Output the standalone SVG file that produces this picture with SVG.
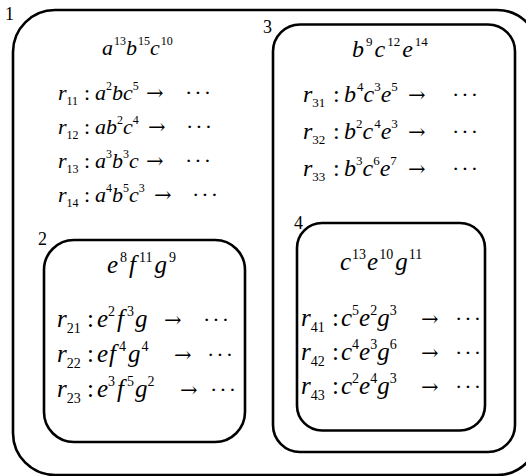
<svg xmlns="http://www.w3.org/2000/svg" width="526" height="476" viewBox="0 0 526 476">
<style>
.box{fill:none;stroke:#000;stroke-width:2.6}
.lbl{font-family:"Liberation Serif","DejaVu Serif",serif;font-size:18px;fill:#000}
.m{font-family:"Liberation Serif","DejaVu Serif",serif;font-style:italic;fill:#000}
.b1{font-size:22px}
.b2{font-size:25px}
.b3{font-size:24px}
.n{font-style:normal}
.s1{font-size:12px;font-style:normal}
.s2{font-size:14px;font-style:normal}
.s3{font-size:13px;font-style:normal}
.ar{font-style:normal;font-size:21px;font-family:"DejaVu Serif",serif}
.dt{font-style:normal;font-size:22px;letter-spacing:2px}
</style>
<rect width="526" height="476" fill="#fff"/>
<g id="box1">
<rect class="box" x="13" y="10" width="526" height="465" rx="42"/>
<text class="lbl" x="5" y="20">1</text>
<text class="m b1" x="102" y="55">a<tspan class="s1" dy="-10" dx="1">13</tspan><tspan dy="10">b</tspan><tspan class="s1" dy="-10" dx="1">15</tspan><tspan dy="10">c</tspan><tspan class="s1" dy="-10" dx="1">10</tspan></text>
<text class="m b1" y="100"><tspan x="58">r</tspan><tspan class="s1" dy="5">11</tspan><tspan class="n" x="84" dy="-5">:</tspan><tspan x="95">a</tspan><tspan class="s1" dy="-10">2</tspan><tspan dy="10">bc</tspan><tspan class="s1" dy="-10">5</tspan><tspan class="ar" x="146" dy="10">→</tspan><tspan class="dt" x="185">···</tspan></text>
<text class="m b1" y="134"><tspan x="58">r</tspan><tspan class="s1" dy="5">12</tspan><tspan class="n" x="84" dy="-5">:</tspan><tspan x="95">ab</tspan><tspan class="s1" dy="-10">2</tspan><tspan dy="10">c</tspan><tspan class="s1" dy="-10">4</tspan><tspan class="ar" x="148" dy="10">→</tspan><tspan class="dt" x="186">···</tspan></text>
<text class="m b1" y="168"><tspan x="58">r</tspan><tspan class="s1" dy="5">13</tspan><tspan class="n" x="84" dy="-5">:</tspan><tspan x="95">a</tspan><tspan class="s1" dy="-10">3</tspan><tspan dy="10">b</tspan><tspan class="s1" dy="-10">3</tspan><tspan dy="10">c</tspan><tspan class="ar" x="146">→</tspan><tspan class="dt" x="185">···</tspan></text>
<text class="m b1" y="202"><tspan x="58">r</tspan><tspan class="s1" dy="5">14</tspan><tspan class="n" x="84" dy="-5">:</tspan><tspan x="95">a</tspan><tspan class="s1" dy="-10">4</tspan><tspan dy="10">b</tspan><tspan class="s1" dy="-10">5</tspan><tspan dy="10">c</tspan><tspan class="s1" dy="-10">3</tspan><tspan class="ar" x="154" dy="10">→</tspan><tspan class="dt" x="192">···</tspan></text>
</g>
<g id="box2">
<rect class="box" x="44" y="240" width="201" height="202" rx="30"/>
<text class="lbl" x="38" y="245">2</text>
<text class="m b2" x="107" y="273">e<tspan class="s2" dy="-11" dx="2">8</tspan><tspan dy="11" dx="2">f</tspan><tspan class="s2" dy="-11" dx="3">11</tspan><tspan dy="11" dx="2">g</tspan><tspan class="s2" dy="-11" dx="2">9</tspan></text>
<text class="m b2" y="327"><tspan x="57">r</tspan><tspan class="s2" dy="6">21</tspan><tspan class="n" x="87" dy="-6">:</tspan><tspan x="97">e</tspan><tspan class="s2" dy="-11">2</tspan><tspan dy="11" dx="2">f</tspan><tspan class="s2" dy="-11" dx="3">3</tspan><tspan dy="11" dx="1">g</tspan><tspan class="ar" x="164">→</tspan><tspan class="dt" x="203">···</tspan></text>
<text class="m b2" y="362"><tspan x="57">r</tspan><tspan class="s2" dy="6">22</tspan><tspan class="n" x="87" dy="-6">:</tspan><tspan x="97">e</tspan><tspan dx="1">f</tspan><tspan class="s2" dy="-11" dx="3">4</tspan><tspan dy="11" dx="2">g</tspan><tspan class="s2" dy="-11" dx="1">4</tspan><tspan class="ar" x="174" dy="11">→</tspan><tspan class="dt" x="207">···</tspan></text>
<text class="m b2" y="397"><tspan x="57">r</tspan><tspan class="s2" dy="6">23</tspan><tspan class="n" x="87" dy="-6">:</tspan><tspan x="97">e</tspan><tspan class="s2" dy="-11">3</tspan><tspan dy="11" dx="2">f</tspan><tspan class="s2" dy="-11" dx="3">5</tspan><tspan dy="11" dx="1">g</tspan><tspan class="s2" dy="-11">2</tspan><tspan class="ar" x="180" dy="11">→</tspan><tspan class="dt" x="210">···</tspan></text>
</g>
<g id="box3">
<rect class="box" x="273" y="24.5" width="242" height="427.5" rx="27"/>
<text class="lbl" x="263" y="33">3</text>
<text class="m b3" x="352" y="57">b<tspan class="s3" dy="-11" dx="2">9</tspan><tspan dy="11" dx="2">c</tspan><tspan class="s3" dy="-11" dx="2">12</tspan><tspan dy="11" dx="2">e</tspan><tspan class="s3" dy="-11" dx="2">14</tspan></text>
<text class="m b3" y="102"><tspan x="303">r</tspan><tspan class="s3" dy="5">31</tspan><tspan class="n" x="333" dy="-5">:</tspan><tspan x="344">b</tspan><tspan class="s3" dy="-11" dx="1">4</tspan><tspan dy="11">c</tspan><tspan class="s3" dy="-11">3</tspan><tspan dy="11">e</tspan><tspan class="s3" dy="-11">5</tspan><tspan class="ar" x="408" dy="11">→</tspan><tspan class="dt" x="452">···</tspan></text>
<text class="m b3" y="139"><tspan x="303">r</tspan><tspan class="s3" dy="5">32</tspan><tspan class="n" x="333" dy="-5">:</tspan><tspan x="344">b</tspan><tspan class="s3" dy="-11">2</tspan><tspan dy="11">c</tspan><tspan class="s3" dy="-11" dx="1">4</tspan><tspan dy="11">e</tspan><tspan class="s3" dy="-11">3</tspan><tspan class="ar" x="408" dy="11">→</tspan><tspan class="dt" x="452">···</tspan></text>
<text class="m b3" y="176"><tspan x="303">r</tspan><tspan class="s3" dy="5">33</tspan><tspan class="n" x="333" dy="-5">:</tspan><tspan x="344">b</tspan><tspan class="s3" dy="-11">3</tspan><tspan dy="11">c</tspan><tspan class="s3" dy="-11">6</tspan><tspan dy="11">e</tspan><tspan class="s3" dy="-11">7</tspan><tspan class="ar" x="408" dy="11">→</tspan><tspan class="dt" x="452">···</tspan></text>
<g id="box4">
<rect class="box" x="297" y="223" width="188" height="207.5" rx="25"/>
<text class="lbl" x="294" y="229">4</text>
<text class="m b2" x="340" y="270">c<tspan class="s2" dy="-11" dx="1">13</tspan><tspan dy="11" dx="1">e</tspan><tspan class="s2" dy="-11" dx="1">10</tspan><tspan dy="11" dx="2">g</tspan><tspan class="s2" dy="-11" dx="1">11</tspan></text>
<text class="m b2" y="326"><tspan x="301">r</tspan><tspan class="s2" dy="6">41</tspan><tspan class="n" x="332" dy="-6">:</tspan><tspan x="341">c</tspan><tspan class="s2" dy="-11">5</tspan><tspan dy="11">e</tspan><tspan class="s2" dy="-11">2</tspan><tspan dy="11">g</tspan><tspan class="s2" dy="-11">3</tspan><tspan class="ar" x="421" dy="11">→</tspan><tspan class="dt" x="455">···</tspan></text>
<text class="m b2" y="360"><tspan x="301">r</tspan><tspan class="s2" dy="6">42</tspan><tspan class="n" x="332" dy="-6">:</tspan><tspan x="341">c</tspan><tspan class="s2" dy="-11">4</tspan><tspan dy="11">e</tspan><tspan class="s2" dy="-11">3</tspan><tspan dy="11">g</tspan><tspan class="s2" dy="-11">6</tspan><tspan class="ar" x="421" dy="11">→</tspan><tspan class="dt" x="455">···</tspan></text>
<text class="m b2" y="394"><tspan x="301">r</tspan><tspan class="s2" dy="6">43</tspan><tspan class="n" x="332" dy="-6">:</tspan><tspan x="341">c</tspan><tspan class="s2" dy="-11">2</tspan><tspan dy="11">e</tspan><tspan class="s2" dy="-11">4</tspan><tspan dy="11">g</tspan><tspan class="s2" dy="-11">3</tspan><tspan class="ar" x="421" dy="11">→</tspan><tspan class="dt" x="455">···</tspan></text>
</g>
</g>
</svg>
